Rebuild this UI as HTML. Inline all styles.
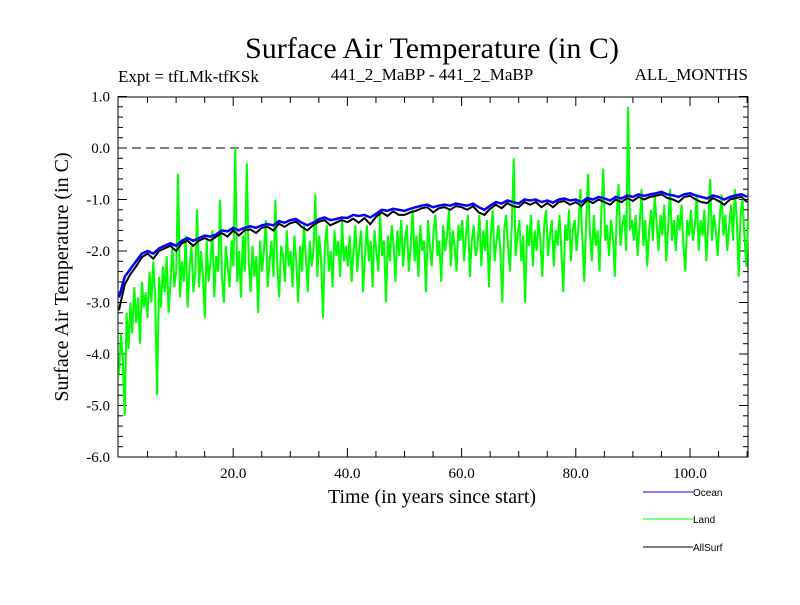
<!DOCTYPE html>
<html><head><meta charset="utf-8"><style>
body{margin:0;background:#fff;}
svg text{font-family:"Liberation Serif",serif;}
svg text.sans{font-family:"Liberation Sans",sans-serif;}
</style></head><body>
<svg id="chart" width="800" height="600" xmlns="http://www.w3.org/2000/svg">
<rect width="800" height="600" fill="#fff"/>
<text x="432" y="58" font-size="30" text-anchor="middle">Surface Air Temperature (in C)</text>
<text x="118" y="82" font-size="17">Expt = tfLMk-tfKSk</text>
<text x="432" y="80" font-size="17" text-anchor="middle">441_2_MaBP - 441_2_MaBP</text>
<text x="748" y="80" font-size="17" text-anchor="end">ALL_MONTHS</text>
<text x="432" y="503" font-size="20" text-anchor="middle">Time (in years since start)</text>
<text transform="translate(68,277) rotate(-90)" font-size="20" text-anchor="middle">Surface Air Temperature (in C)</text>
<g id="axes"></g>
<g id="series"></g>
<g id="legend">
 <line x1="643" y1="492" x2="693" y2="492" stroke="#0000ff"/>
 <text class="sans" x="693" y="496" font-size="10">Ocean</text>
 <line x1="643" y1="519" x2="693" y2="519" stroke="#00ff00"/>
 <text class="sans" x="693" y="523" font-size="10">Land</text>
 <line x1="643" y1="547" x2="693" y2="547" stroke="#000"/>
 <text class="sans" x="693" y="551" font-size="10">AllSurf</text>
</g>
</svg>
<script>
const xTicks=[20,40,60,80,100];
const xTickLabels=["20.0","40.0","60.0","80.0","100.0"];
const yTicks=[1,0,-1,-2,-3,-4,-5,-6];
const yTickLabels=["1.0","0.0","-1.0","-2.0","-3.0","-4.0","-5.0","-6.0"];
const ocean=[-2.9,-2.5,-2.35,-2.2,-2.05,-2.0,-2.05,-1.95,-1.9,-1.85,-1.9,-1.8,-1.75,-1.8,-1.75,-1.7,-1.72,-1.68,-1.6,-1.62,
-1.55,-1.6,-1.55,-1.52,-1.55,-1.5,-1.48,-1.5,-1.42,-1.45,-1.4,-1.38,-1.45,-1.5,-1.45,-1.38,-1.35,-1.4,-1.38,-1.35,
-1.36,-1.3,-1.32,-1.3,-1.35,-1.28,-1.2,-1.22,-1.18,-1.2,-1.22,-1.18,-1.15,-1.12,-1.1,-1.15,-1.12,-1.1,-1.12,-1.08,
-1.1,-1.12,-1.08,-1.15,-1.2,-1.12,-1.05,-1.08,-1.02,-1.05,-1.08,-1.0,-1.02,-1.0,-1.05,-1.02,-1.06,-1.0,-0.98,-1.02,
-1.0,-1.05,-0.97,-1.0,-0.95,-0.98,-1.02,-0.95,-0.98,-0.92,-0.95,-0.9,-0.93,-0.9,-0.88,-0.85,-0.9,-0.92,-0.95,-0.9,
-0.88,-0.92,-0.95,-0.98,-0.92,-0.95,-1.0,-0.95,-0.92,-0.9,-0.95];
const allSurf=[-3.15,-2.65,-2.45,-2.3,-2.12,-2.05,-2.15,-2.0,-1.95,-1.9,-2.0,-1.85,-1.8,-1.9,-1.8,-1.75,-1.8,-1.72,-1.65,-1.72,
-1.6,-1.7,-1.6,-1.58,-1.65,-1.55,-1.53,-1.6,-1.47,-1.53,-1.46,-1.43,-1.53,-1.6,-1.5,-1.43,-1.4,-1.5,-1.45,-1.4,
-1.44,-1.37,-1.45,-1.36,-1.48,-1.34,-1.25,-1.32,-1.23,-1.3,-1.3,-1.25,-1.22,-1.17,-1.15,-1.25,-1.17,-1.15,-1.2,-1.13,
-1.15,-1.2,-1.13,-1.25,-1.3,-1.18,-1.1,-1.17,-1.07,-1.13,-1.15,-1.05,-1.1,-1.05,-1.15,-1.07,-1.15,-1.05,-1.03,-1.1,
-1.05,-1.13,-1.01,-1.07,-1.0,-1.05,-1.1,-1.0,-1.05,-0.97,-1.03,-0.95,-1.0,-0.95,-0.93,-0.9,-0.97,-1.0,-1.05,-0.95,
-0.93,-1.0,-1.05,-1.07,-0.97,-1.03,-1.1,-1.0,-0.97,-0.95,-1.05];
const land=[-4.4,-3.6,-4.1,-5.2,-3.2,-3.9,-3.0,-3.6,-2.7,-3.4,-2.9,-3.8,-2.6,-3.1,-2.8,-3.3,-2.4,-3.0,-2.2,-2.9,-4.8,-2.5,-3.1,-2.3,-2.8,-2.1,-3.2,-2.6,-1.9,-2.7,
-2.4,-0.5,-2.9,-2.2,-2.6,-1.7,-3.1,-2.3,-1.9,-2.8,-2.4,-1.2,-2.7,-2.0,-2.5,-3.3,-1.8,-2.6,-2.2,-1.6,-2.9,-2.1,-2.4,-1.0,-2.5,-3.0,-1.9,-2.3,-2.7,-1.8,
-2.3,0.0,-2.6,-2.0,-2.9,-1.7,-2.4,-0.3,-2.2,-2.8,-1.9,-2.5,-2.1,-3.2,-1.8,-2.4,-2.0,-1.4,-2.7,-2.2,-1.8,-2.5,-1.0,-2.3,-2.9,-1.9,-2.1,-2.6,-1.6,-2.3,
-2.0,-2.7,-1.7,-2.2,-3.0,-1.9,-2.4,-1.5,-2.1,-2.8,-1.8,-2.3,-2.0,-0.9,-2.5,-1.7,-2.2,-3.3,-1.9,-1.5,-2.4,-2.0,-2.7,-1.6,-2.1,-1.8,-2.5,-1.4,-2.2,-1.9,
-2.3,-1.7,-2.6,-2.0,-1.5,-2.4,-1.9,-1.6,-2.8,-2.1,-1.5,-2.2,-1.8,-2.7,-1.6,-2.0,-2.4,-1.3,-2.1,-1.8,-3.0,-1.7,-2.2,-1.5,-1.9,-2.6,-1.6,-2.1,-1.4,-2.3,
-1.8,-1.5,-2.4,-1.9,-1.2,-2.2,-1.7,-2.5,-1.5,-2.0,-1.8,-2.8,-1.4,-1.9,-2.3,-1.6,-1.3,-2.1,-1.8,-2.6,-1.5,-2.0,-1.7,-1.2,-2.3,-1.6,-1.9,-2.4,-1.5,-1.8,
-1.4,-2.2,-1.7,-1.3,-2.5,-1.8,-1.5,-2.1,-1.9,-1.3,-2.3,-1.6,-2.0,-1.4,-2.7,-1.7,-1.2,-2.2,-1.8,-1.5,-2.0,-3.0,-1.6,-1.3,-1.9,-2.4,-1.5,-0.2,-2.1,-1.7,
-1.4,-2.2,-1.7,-3.0,-1.5,-1.9,-1.3,-2.3,-1.6,-2.0,-1.4,-1.8,-2.5,-1.5,-1.2,-2.1,-1.7,-1.4,-2.3,-1.6,-1.9,-1.3,-2.0,-2.8,-1.5,-1.8,-1.2,-2.2,-1.6,-1.4,
-2.0,-1.5,-0.8,-1.8,-2.6,-1.4,-0.5,-1.7,-2.2,-1.3,-1.9,-1.6,-2.4,-1.2,-0.4,-1.8,-1.5,-2.1,-1.4,-1.7,-2.5,-1.3,-0.7,-1.9,-1.5,-1.3,-2.0,0.8,-1.6,-1.4,
-1.8,-1.3,-2.1,-1.5,-0.8,-1.9,-1.4,-2.3,-1.6,-1.2,-1.8,-0.9,-1.5,-2.0,-1.3,-1.7,-1.1,-2.2,-1.5,-0.8,-1.8,-1.4,-2.0,-1.3,-1.6,-1.1,-1.9,-2.4,-1.4,-1.7,
-1.2,-1.8,-1.5,-0.9,-2.0,-1.4,-1.7,-1.2,-2.2,-1.5,-0.6,-1.8,-1.3,-1.6,-2.1,-1.4,-0.9,-1.7,-1.3,-2.0,-1.5,-1.1,-1.8,-0.8,-1.4,-2.5,-1.3,-1.0,-1.7,-2.3,-1.4];

const X0=119,XS=5.71,Y0=148,YS=51.5;
const xs=v=>X0+v*XS, ys=v=>Y0-v*YS;
const NS='http://www.w3.org/2000/svg';
const axes=document.getElementById('axes'), ser=document.getElementById('series');
function mk(tag,attrs,parent){const e=document.createElementNS(NS,tag);for(const k in attrs)e.setAttribute(k,attrs[k]);parent.appendChild(e);return e;}
const fr=mk('rect',{x:118,y:97,width:630,height:360,fill:'none',stroke:'#000','stroke-width':1},axes);


const zl=mk('line',{x1:118,x2:748,y1:ys(0),y2:ys(0),stroke:'#000','stroke-dasharray':'9,5'},axes);


for(let t=5;t<=110;t+=5){const x=xs(t);const L=(t%20===0)?9:6;
 mk('line',{x1:x,x2:x,y1:457,y2:457-L,stroke:'#000'},axes);mk('line',{x1:x,x2:x,y1:97,y2:97+L,stroke:'#000'},axes);}
for(let i=0;i<=35;i++){const v=1-i*0.2;const y=ys(v);const L=(i%5===0)?9:5;
 mk('line',{x1:118,x2:118+L,y1:y,y2:y,stroke:'#000'},axes);mk('line',{x1:748,x2:748-L,y1:y,y2:y,stroke:'#000'},axes);}
xTicks.forEach((t,i)=>{const tx=mk('text',{x:xs(t),y:478,'font-size':15,'text-anchor':'middle'},axes);tx.textContent=xTickLabels[i];
 
 });
yTicks.forEach((t,i)=>{const tx=mk('text',{x:110,y:ys(t)+5,'font-size':15,'text-anchor':'end'},axes);tx.textContent=yTickLabels[i];
 
 });
function line(arr,step,color,w,name){
 const pts=arr.map((v,i)=>xs(Math.min(i*step,110.2)).toFixed(1)+','+ys(v).toFixed(1)).join(' ');
 const p=mk('polyline',{points:pts,fill:'none',stroke:color,'stroke-width':w,'stroke-linejoin':'miter'},ser);
 
 
}
line(land,110.2/(land.length-1),'#00ff00',2,'land-series');
line(allSurf,1,'#000',2,'allsurf-series');
line(ocean,1,'#0000ff',2.5,'ocean-series');
</script>
</body></html>
